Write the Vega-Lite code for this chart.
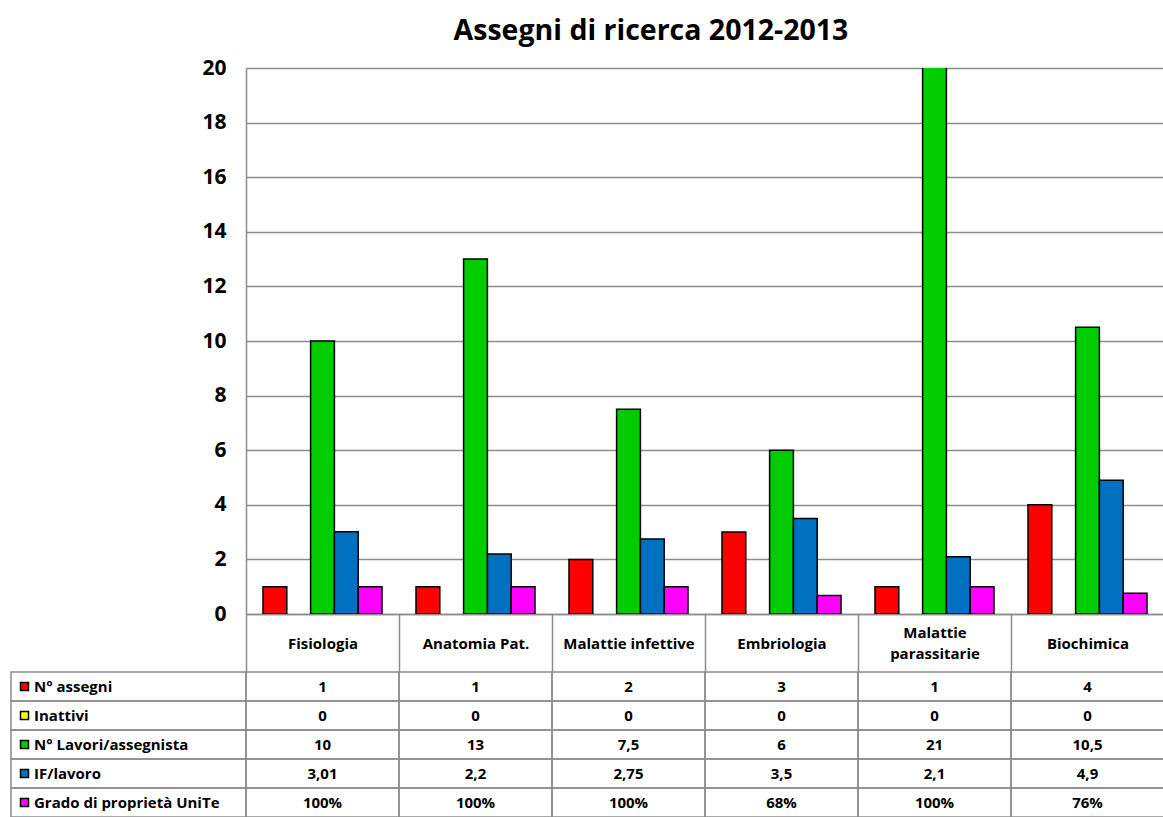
{
  "$schema": "https://vega.github.io/schema/vega-lite/v6.json",
  "padding": {"left": 10, "top": 16, "right": 0, "bottom": 0},
  "background": "white",
  "config": {"view": {"stroke": null}, "font": "Open Sans"},
  "datasets": {
    "d": [
      {"categoria": "Fisiologia", "serie": "N° assegni", "valore": 1},
      {"categoria": "Fisiologia", "serie": "Inattivi", "valore": 0},
      {"categoria": "Fisiologia", "serie": "N° Lavori/assegnista", "valore": 10},
      {"categoria": "Fisiologia", "serie": "IF/lavoro", "valore": 3.01},
      {"categoria": "Fisiologia", "serie": "Grado di proprietà UniTe", "valore": 1},
      {"categoria": "Anatomia Pat.", "serie": "N° assegni", "valore": 1},
      {"categoria": "Anatomia Pat.", "serie": "Inattivi", "valore": 0},
      {"categoria": "Anatomia Pat.", "serie": "N° Lavori/assegnista", "valore": 13},
      {"categoria": "Anatomia Pat.", "serie": "IF/lavoro", "valore": 2.2},
      {"categoria": "Anatomia Pat.", "serie": "Grado di proprietà UniTe", "valore": 1},
      {"categoria": "Malattie infettive", "serie": "N° assegni", "valore": 2},
      {"categoria": "Malattie infettive", "serie": "Inattivi", "valore": 0},
      {"categoria": "Malattie infettive", "serie": "N° Lavori/assegnista", "valore": 7.5},
      {"categoria": "Malattie infettive", "serie": "IF/lavoro", "valore": 2.75},
      {"categoria": "Malattie infettive", "serie": "Grado di proprietà UniTe", "valore": 1},
      {"categoria": "Embriologia", "serie": "N° assegni", "valore": 3},
      {"categoria": "Embriologia", "serie": "Inattivi", "valore": 0},
      {"categoria": "Embriologia", "serie": "N° Lavori/assegnista", "valore": 6},
      {"categoria": "Embriologia", "serie": "IF/lavoro", "valore": 3.5},
      {"categoria": "Embriologia", "serie": "Grado di proprietà UniTe", "valore": 0.68},
      {"categoria": "Malattie parassitarie", "serie": "N° assegni", "valore": 1},
      {"categoria": "Malattie parassitarie", "serie": "Inattivi", "valore": 0},
      {"categoria": "Malattie parassitarie", "serie": "N° Lavori/assegnista", "valore": 21},
      {"categoria": "Malattie parassitarie", "serie": "IF/lavoro", "valore": 2.1},
      {"categoria": "Malattie parassitarie", "serie": "Grado di proprietà UniTe", "valore": 1},
      {"categoria": "Biochimica", "serie": "N° assegni", "valore": 4},
      {"categoria": "Biochimica", "serie": "Inattivi", "valore": 0},
      {"categoria": "Biochimica", "serie": "N° Lavori/assegnista", "valore": 10.5},
      {"categoria": "Biochimica", "serie": "IF/lavoro", "valore": 4.9},
      {"categoria": "Biochimica", "serie": "Grado di proprietà UniTe", "valore": 0.76}
    ]
  },
  "columns": 2,
  "spacing": {"row": 58, "column": 0},
  "bounds": "flush",
  "resolve": {"scale": {"color": "independent", "x": "independent", "y": "independent"}, "legend": {"color": "independent"}},
  "concat": [
    {
      "width": 235,
      "height": 546,
      "data": {"values": []},
      "mark": {"type": "rect", "opacity": 0}
    },
    {
      "width": 918,
      "height": 546,
      "data": {"name": "d"},
      "transform": [{"filter": "datum.valore > 0"}],
      "title": {"text": "Assegni di ricerca 2012-2013", "font": "Open Sans", "fontSize": 28.5, "fontWeight": "bold", "color": "black", "frame": "group", "anchor": "middle", "dx": -54, "offset": 12},
      "mark": {"type": "bar", "stroke": "black", "strokeWidth": 1.5, "clip": true},
      "encoding": {
        "x": {
          "field": "categoria", "type": "nominal",
          "sort": ["Fisiologia", "Anatomia Pat.", "Malattie infettive", "Embriologia", "Malattie parassitarie", "Biochimica"],
          "scale": {"domain": ["Fisiologia", "Anatomia Pat.", "Malattie infettive", "Embriologia", "Malattie parassitarie", "Biochimica"], "paddingInner": 0, "paddingOuter": 0},
          "axis": {
            "title": null, "orient": "bottom", "labelAngle": 0,
            "domain": true, "domainColor": "#8c8c8c", "domainWidth": 1.5,
            "ticks": true, "tickBand": "extent", "tickSize": 58, "tickColor": "#8c8c8c", "tickWidth": 1.5,
            "labelFont": "Open Sans", "labelFontSize": 15, "labelFontWeight": "bold", "labelColor": "black",
            "labelBaseline": "middle", "labelLimit": 200, "labelLineHeight": 21,
            "labelPadding": {"condition": {"test": "datum.value == 'Malattie parassitarie'", "value": -40}, "value": -29},
            "labelExpr": "datum.label == 'Malattie parassitarie' ? ['Malattie', 'parassitarie'] : datum.label"
          }
        },
        "xOffset": {
          "field": "serie",
          "scale": {"domain": ["N° assegni", "Inattivi", "N° Lavori/assegnista", "IF/lavoro", "Grado di proprietà UniTe"], "paddingInner": 0, "paddingOuter": 0.714}
        },
        "y": {
          "field": "valore", "type": "quantitative",
          "scale": {"domain": [0, 20], "nice": false},
          "axis": {
            "title": null, "values": [0, 2, 4, 6, 8, 10, 12, 14, 16, 18, 20],
            "domain": true, "domainColor": "#8c8c8c", "domainWidth": 1.5,
            "ticks": false, "grid": true, "gridColor": "#8c8c8c", "gridWidth": 1.5,
            "labelFont": "Open Sans", "labelFontSize": 21, "labelFontWeight": "bold", "labelColor": "black", "labelPadding": 20
          }
        },
        "color": {
          "field": "serie", "type": "nominal",
          "scale": {"domain": ["N° assegni", "Inattivi", "N° Lavori/assegnista", "IF/lavoro", "Grado di proprietà UniTe"], "range": ["#ff0000", "#ffff00", "#00cc00", "#0070c0", "#ff00ff"]},
          "legend": {
            "orient": "none", "legendX": -229, "legendY": 609, "title": null, "direction": "vertical",
            "symbolType": "square", "symbolSize": 64, "symbolStrokeColor": "black", "symbolStrokeWidth": 1.5, "symbolOpacity": 1,
            "labelFont": "Open Sans", "labelFontSize": 15, "labelFontWeight": "bold", "labelColor": "black", "labelLimit": 300,
            "rowPadding": 10, "clipHeight": 19, "symbolOffset": 0, "labelOffset": 2, "padding": 0
          }
        }
      }
    },
    {
      "width": 235,
      "height": 145,
      "data": {"name": "d"},
      "transform": [{"filter": "datum.categoria == 'Fisiologia'"}],
      "mark": {"type": "rect", "filled": false, "stroke": "#8c8c8c", "strokeWidth": 1.5},
      "encoding": {
        "y": {"field": "serie", "type": "nominal", "axis": null,
              "scale": {"domain": ["N° assegni", "Inattivi", "N° Lavori/assegnista", "IF/lavoro", "Grado di proprietà UniTe"], "paddingInner": 0, "paddingOuter": 0}}
      }
    },
    {
      "width": 918,
      "height": 145,
      "data": {"name": "d"},
      "transform": [{"calculate": "datum.serie == 'Grado di proprietà UniTe' ? format(datum.valore, '.0%') : replace(format(datum.valore, '~g'), '.', ',')", "as": "testo"}],
      "encoding": {
        "x": {"field": "categoria", "type": "nominal", "axis": null,
              "scale": {"domain": ["Fisiologia", "Anatomia Pat.", "Malattie infettive", "Embriologia", "Malattie parassitarie", "Biochimica"], "paddingInner": 0, "paddingOuter": 0}},
        "y": {"field": "serie", "type": "nominal", "axis": null,
              "scale": {"domain": ["N° assegni", "Inattivi", "N° Lavori/assegnista", "IF/lavoro", "Grado di proprietà UniTe"], "paddingInner": 0, "paddingOuter": 0}}
      },
      "layer": [
        {"mark": {"type": "rect", "filled": false, "stroke": "#8c8c8c", "strokeWidth": 1.5}},
        {"mark": {"type": "text", "font": "Open Sans", "fontSize": 15, "fontWeight": "bold", "color": "black"},
         "encoding": {"text": {"field": "testo", "type": "nominal"}}}
      ]
    }
  ]
}
